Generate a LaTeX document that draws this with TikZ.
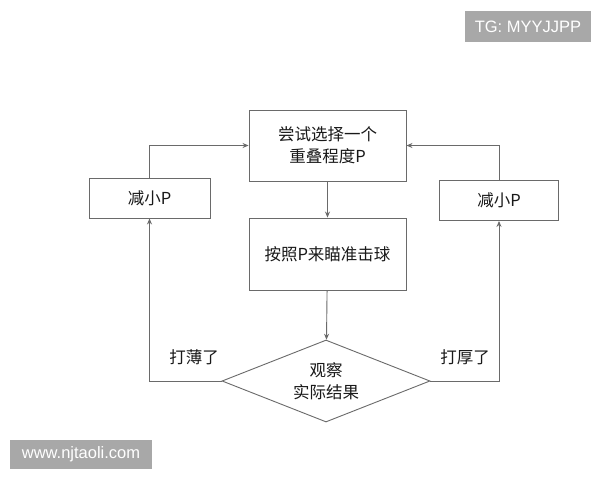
\documentclass[tikz,border=0pt]{standalone}
\usepackage{fontspec}
\setmainfont{Liberation Sans}
\newfontfamily\cjk{Noto Sans CJK SC}
\usetikzlibrary{shapes.geometric,arrows.meta}
\definecolor{linec}{HTML}{6A6A6A}
\definecolor{wmgray}{HTML}{A8A8A8}
\tikzset{
  box/.style={draw=linec, line width=0.9pt, fill=white, font=\cjk\fontsize{16.5}{22}\selectfont, align=center, inner sep=0pt, text=black!90},
  conn/.style={draw=linec, line width=0.9pt, -{Stealth[length=6pt,width=5pt]}},
  lbl/.style={font=\cjk\fontsize{16.5}{22}\selectfont, text=black!90},
  wm/.style={fill=wmgray, text=white, font=\fontsize{16.5}{18}\selectfont, inner sep=0pt}
}
\begin{document}
\begin{tikzpicture}[x=1pt,y=-1pt]
\useasboundingbox (0,0) rectangle (600,480);
\fill[white] (0,0) rectangle (600,480);
\node[box, minimum width=157pt, minimum height=71pt] (try) at (327.5,145.5) {尝试选择一个\\重叠程度P};
\node[box, minimum width=157pt, minimum height=72pt] (aim) at (327.5,254) {按照P来瞄准击球};
\node[box, minimum width=121pt, minimum height=40pt] (decL) at (149.5,198) {减小P};
\node[box, minimum width=119pt, minimum height=40pt] (decR) at (499,200.5) {减小P};
\node[draw=linec, line width=0.9pt, diamond, aspect=2.6, minimum width=208pt, minimum height=82pt, inner sep=0pt, font=\cjk\fontsize{16.5}{22}\selectfont, align=center, text=black!90] (obs) at (326,381) {观察\\实际结果};
\coordinate (lt) at (149.5,145.5);
\coordinate (rt) at (499,145.5);
\coordinate (lb) at (149.5,381);
\coordinate (rb) at (499,381);
\draw[conn] (try) -- (aim);
\draw[conn] (aim) -- (obs);
\draw[conn] (obs.west) -- (lb) -- (decL.south);
\draw[conn] (decL.north) -- (lt) -- (try.west);
\draw[conn] (obs.east) -- (rb) -- (decR.south);
\draw[conn] (decR.north) -- (rt) -- (try.east);
\node[lbl] (thin) at (194,357) {打薄了};
\node[lbl] (thick) at (465,357) {打厚了};
\node[wm, minimum width=126pt, minimum height=31pt] (tg) at (528,26.5) {TG: MYYJJPP};
\node[wm, minimum width=142pt, minimum height=29pt] (web) at (81,454.5) {www.njtaoli.com};
\end{tikzpicture}
\end{document}
